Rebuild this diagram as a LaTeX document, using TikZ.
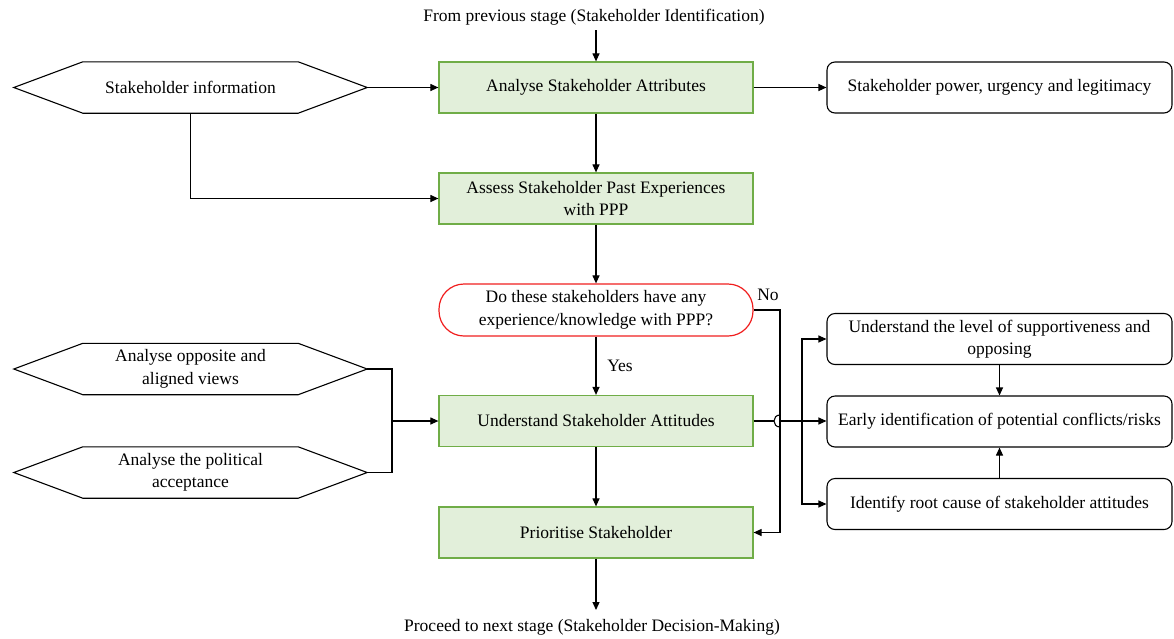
\documentclass[tikz,border=0pt]{standalone}
\usepackage{fontspec}
\setmainfont{Liberation Serif}
\usetikzlibrary{arrows.meta,calc}

\definecolor{stepfill}{RGB}{226,239,218}
\definecolor{stepline}{RGB}{112,173,71}
\definecolor{askline}{RGB}{240,30,30}

\tikzset{
  txt/.style={font=\fontsize{17.5}{22.5}\selectfont, align=center, inner sep=0pt},
  stepbox/.style={txt, draw=stepline, fill=stepfill, line width=1.2pt,
                  minimum width=314pt, minimum height=51pt},
  askbox/.style={txt, draw=askline, line width=1.2pt, rounded corners=25pt,
                 minimum width=314pt, minimum height=52pt},
  outbox/.style={txt, draw, line width=1.1pt, rounded corners=8pt,
                 minimum width=345pt, minimum height=51pt},
  inbox/.style={txt, minimum width=353pt, minimum height=51pt},
  conn/.style={line width=1.1pt, -{Triangle[length=8pt,width=7pt]}},
  wire/.style={line width=1.1pt},
}

% hexagonal outline around an input node
\newcommand\hexoutline[1]{%
  \draw[line width=1.1pt] ([xshift=69pt]#1.north west) -- ([xshift=-69pt]#1.north east)
    -- (#1.east) -- ([xshift=-69pt]#1.south east) -- ([xshift=69pt]#1.south west)
    -- (#1.west) -- cycle;}

\begin{document}
\begin{tikzpicture}[x=1pt,y=-1pt]
\useasboundingbox (0,0) rectangle (1174,638);

% main column
\node[txt] (src) at (594,17) {From previous stage (Stakeholder Identification)};
\node[stepbox] (attr) at (596,87.5) {Analyse Stakeholder Attributes};
\node[stepbox] (past) at (596,198.5) {Assess Stakeholder Past Experiences\\with PPP};
\node[askbox] (ask) at (596,310) {Do these stakeholders have any\\experience/knowledge with PPP?};
\node[stepbox] (att) at (596,421) {Understand Stakeholder Attitudes};
\node[stepbox] (prio) at (596,532.5) {Prioritise Stakeholder};
\node[txt] (next) at (592,627) {Proceed to next stage (Stakeholder Decision-Making)};

% inputs on the left
\node[inbox] (info) at (190.5,87.5) {Stakeholder information};
\hexoutline{info}
\node[inbox] (views) at (190.5,369) {Analyse opposite and\\aligned views};
\hexoutline{views}
\node[inbox] (polit) at (190.5,472.5) {Analyse the political\\acceptance};
\hexoutline{polit}

% outputs on the right
\node[outbox] (pul) at (999.5,87.5) {Stakeholder power, urgency and legitimacy};
\node[outbox] (supp) at (999.5,339) {Understand the level of supportiveness and\\opposing};
\node[outbox] (early) at (999.5,421.5) {Early identification of potential conflicts/risks};
\node[outbox] (root) at (999.5,504) {Identify root cause of stakeholder attitudes};

% labels of the decision
\node[txt] (yes) at (620,366) {Yes};
\node[txt] (no) at (768,295) {No};

% main flow
\draw[conn] (attr.north |- 0,30) coordinate (c0) -- (attr.north);
\draw[conn] (attr) -- (past);
\draw[conn] (past) -- (ask);
\draw[conn] (ask) -- (att);
\draw[conn] (att) -- (prio);
\draw[conn] (prio.south) -- (prio.south |- 0,610) coordinate (c1);

% left inputs
\draw[conn] (info) -- (attr);
\draw[conn] (info.south) |- (past.west);
\coordinate (lj) at (392,421);
\draw[wire] (views.east) -| (lj);
\draw[wire] (polit.east) -| (lj);
\draw[conn] (lj) -- (att.west);

% right outputs
\draw[conn] (attr) -- (pul);
\coordinate (nx) at (780,310);
\draw[conn] (ask.east) -- (nx) -- (nx |- prio.east) -- (prio.east);

% attitudes branch with a line hop over the "No" path
\coordinate (rj) at (802,421);
\draw[wire] (att.east) -- (774,421);
\draw[wire] (780,415) .. controls (772,415) and (772,427) .. (780,427);
\draw[wire] (780,421) -- (rj);
\draw[conn] (rj) -- (early.west |- rj);
\draw[conn] (rj) |- (supp.west);
\draw[conn] (rj) |- (root.west);
\draw[conn] (supp.south) -- (early.north);
\draw[conn] (root.north) -- (early.south);
\end{tikzpicture}
\end{document}
